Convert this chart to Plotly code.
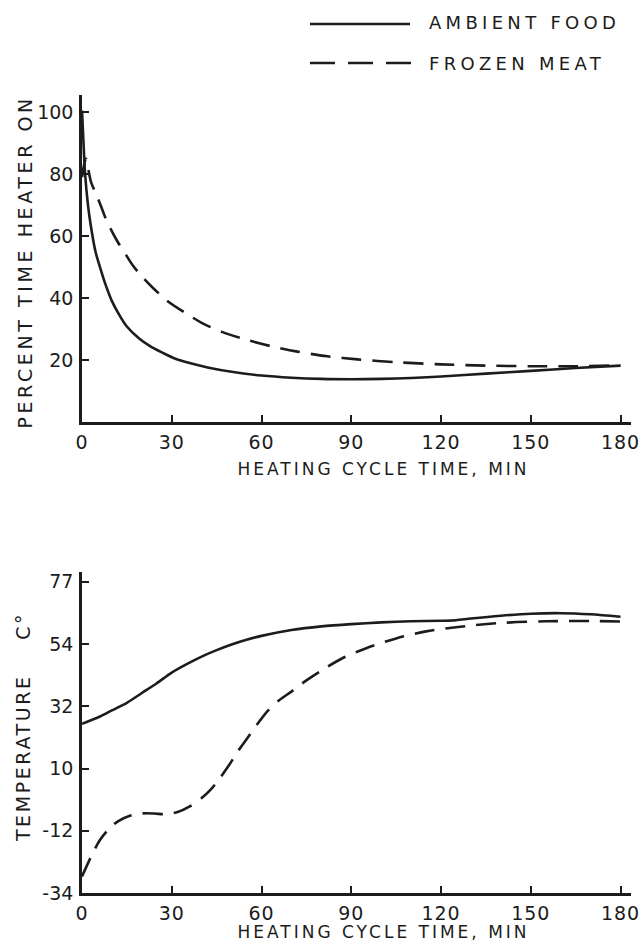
import plotly.graph_objects as go

W, H = 639, 950

# ---------------- data ----------------
series_names = ["AMBIENT FOOD", "FROZEN MEAT"]

# Top chart: percent time heater on vs heating cycle time (min)
heater_time_ambient = [0, 0.5, 1, 2, 3, 4.5, 6, 8, 10, 12.5, 15, 19, 23, 27, 31, 36, 42, 50,
                       60, 70, 80, 90, 100, 110, 120, 135, 150, 165, 180]
heater_pct_ambient = [100.5, 90, 80.5, 70, 63, 55, 50, 44, 39, 34.5, 30.8, 27, 24.3, 22.3, 20.5,
                      19, 17.6, 16.2, 15, 14.3, 13.9, 13.8, 13.9, 14.2, 14.7, 15.6, 16.5, 17.4, 18.2]

heater_time_frozen = [0, 0.7, 1.3, 2, 3, 4.5, 6, 8, 10, 12, 14, 17, 20, 24, 29, 34, 40, 47,
                      55, 63, 72, 82, 92, 105, 120, 135, 150, 165, 180]
heater_pct_frozen = [79, 83, 85, 82, 77.5, 74, 70.5, 65.5, 61.5, 58, 55, 50.5, 47, 43, 38.7,
                     35.5, 32, 29, 26.5, 24.5, 22.7, 21.2, 20.2, 19.3, 18.6, 18.2, 18.0, 18.0, 18.3]

# Bottom chart: temperature (C) vs heating cycle time (min)
temp_time_ambient = [0, 6, 10, 15, 20, 25, 30, 35, 40, 45, 50, 55, 60, 70, 80, 90, 100, 110,
                     120, 125, 130, 140, 150, 160, 170, 180]
temp_c_ambient = [26, 28.6, 30.8, 33.5, 37, 40.5, 44.3, 47.3, 50, 52.3, 54.3, 56, 57.4, 59.5,
                  60.8, 61.6, 62.2, 62.6, 62.8, 63, 63.6, 64.6, 65.3, 65.5, 65.1, 64.2]

temp_time_frozen = [0, 3, 6, 9, 12, 16, 20, 24, 28, 32, 36, 40, 43, 46, 49, 52, 55, 58, 62,
                    66, 70, 75, 80, 87, 95, 105, 115, 125, 140, 155, 170, 180]
temp_c_frozen = [-28.5, -21.5, -15.5, -11.5, -8.8, -6.8, -6.0, -6.0, -6.3, -5.5, -3.5, -0.5,
                 2.5, 6.5, 11, 16, 20.5, 25, 30.5, 34.5, 37.5, 41.5, 45, 49.4, 53, 56.5, 59,
                 60.5, 62, 62.6, 62.7, 62.5]

x_ticks = [0, 30, 60, 90, 120, 150, 180]
x_ticktext = ["0", "30", "60", "90", "120", "150", "180"]
pct_ticks = [20, 40, 60, 80, 100]
temp_ticks = [-34.4, -12.2, 10, 32.2, 54.4, 76.7]
temp_ticktext = ["-34", "-12", "10", "32", "54", "77"]

x_title = "HEATING CYCLE TIME, MIN"
pct_title = "PERCENT TIME HEATER ON"
temp_title = "TEMPERATURE\u00a0\u00a0\u00a0\u00a0C°"

# ---------------- style ----------------
INK = "#1c1c1c"
FONT = "DejaVu Sans"
LW = 2.6
DASH = "20px,11px"


def px_x(p):
    return p / W


def px_y(p):
    return 1 - p / H


fig = go.Figure()

fig.add_trace(go.Scatter(x=heater_time_ambient, y=heater_pct_ambient, mode="lines",
                         name=series_names[0], line=dict(color=INK, width=LW, shape="spline", smoothing=0.8),
                         xaxis="x", yaxis="y", showlegend=False))
fig.add_trace(go.Scatter(x=heater_time_frozen, y=heater_pct_frozen, mode="lines",
                         name=series_names[1], line=dict(color=INK, width=LW, dash=DASH, shape="spline", smoothing=0.8),
                         xaxis="x", yaxis="y", showlegend=False))
fig.add_trace(go.Scatter(x=temp_time_ambient, y=temp_c_ambient, mode="lines",
                         name=series_names[0], line=dict(color=INK, width=LW, shape="spline", smoothing=0.8),
                         xaxis="x2", yaxis="y2", showlegend=False))
fig.add_trace(go.Scatter(x=temp_time_frozen, y=temp_c_frozen, mode="lines",
                         name=series_names[1], line=dict(color=INK, width=LW, dash=DASH, shape="spline", smoothing=0.8),
                         xaxis="x2", yaxis="y2", showlegend=False))

axis_common = dict(showline=True, linewidth=2.6, linecolor=INK, ticks="inside", ticklen=7,
                   tickwidth=2, tickcolor=INK, showgrid=False, zeroline=False, mirror=False,
                   tickfont=dict(family=FONT, size=19, color=INK), automargin=False)

xdom = [px_x(82), px_x(631)]
fig.update_layout(
    width=W, height=H,
    margin=dict(l=0, r=0, t=0, b=0),
    paper_bgcolor="white", plot_bgcolor="white",
    showlegend=False,
    xaxis=dict(domain=xdom, range=[0, 183.5], tickvals=x_ticks, ticktext=x_ticktext,
               anchor="y", ticklabelstandoff=1, **axis_common),
    yaxis=dict(domain=[px_y(422), px_y(95)], range=[0, 105.5], tickvals=pct_ticks,
               anchor="x", ticklabelstandoff=2, **axis_common),
    xaxis2=dict(domain=xdom, range=[0, 183.5], tickvals=x_ticks, ticktext=x_ticktext,
                anchor="y2", ticklabelstandoff=1, **axis_common),
    yaxis2=dict(domain=[px_y(893), px_y(572)], range=[-34.4, 80.2], tickvals=temp_ticks,
                ticktext=temp_ticktext, anchor="x2", ticklabelstandoff=2, **axis_common),
)

# axis titles
title_font = dict(family=FONT, size=17, color=INK)
legend_font = dict(family=FONT, size=18, color=INK)
ytitle_font = dict(family=FONT, size=19, color=INK)
fig.add_annotation(text=x_title, xref="paper", yref="paper", x=px_x(383), y=px_y(469),
                   xanchor="center", yanchor="middle", showarrow=False, font=title_font)
fig.add_annotation(text=x_title, xref="paper", yref="paper", x=px_x(383), y=px_y(932),
                   xanchor="center", yanchor="middle", showarrow=False, font=title_font)
fig.add_annotation(text=pct_title, xref="paper", yref="paper", x=px_x(25), y=px_y(262),
                   xanchor="center", yanchor="middle", textangle=-90, showarrow=False, font=ytitle_font)
fig.add_annotation(text=temp_title, xref="paper", yref="paper", x=px_x(23), y=px_y(727),
                   xanchor="center", yanchor="middle", textangle=-90, showarrow=False, font=ytitle_font)

# legend (key) drawn at top right
fig.add_shape(type="line", xref="paper", yref="paper", x0=px_x(310), x1=px_x(410),
              y0=px_y(24), y1=px_y(24), line=dict(color=INK, width=LW))
fig.add_shape(type="line", xref="paper", yref="paper", x0=px_x(310), x1=px_x(411),
              y0=px_y(63), y1=px_y(63), line=dict(color=INK, width=LW, dash="25px,13px"))
fig.add_annotation(text=series_names[0], xref="paper", yref="paper", x=px_x(427), y=px_y(23),
                   xanchor="left", yanchor="middle", align="left", showarrow=False, font=legend_font)
fig.add_annotation(text=series_names[1], xref="paper", yref="paper", x=px_x(427), y=px_y(63),
                   xanchor="left", yanchor="middle", align="left", showarrow=False, font=legend_font)

post = """
document.body.style.margin = '0';
document.body.style.padding = '0';
var gd = document.getElementById('{plot_id}');
function spaceText(){
  var anns = gd.querySelectorAll('.annotation');
  anns.forEach(function(g){
    var idx = +g.getAttribute('data-index');
    var t = g.querySelector('.annotation-text');
    if (!t) return;
    var s = '3px';
    if (idx === 2) s = '3.6px';
    if (idx === 3) s = '2.6px';
    if (idx === 4 || idx === 5) s = '4.3px';
    t.style.letterSpacing = s;
  });
  gd.querySelectorAll('.xtick text, .x2tick text').forEach(function(t){ t.style.letterSpacing = '1px'; });
}
spaceText();
if (gd.on) { gd.on('plotly_afterplot', spaceText); }
"""

fig.write_html("out.html", post_script=post, config={"displayModeBar": False})
